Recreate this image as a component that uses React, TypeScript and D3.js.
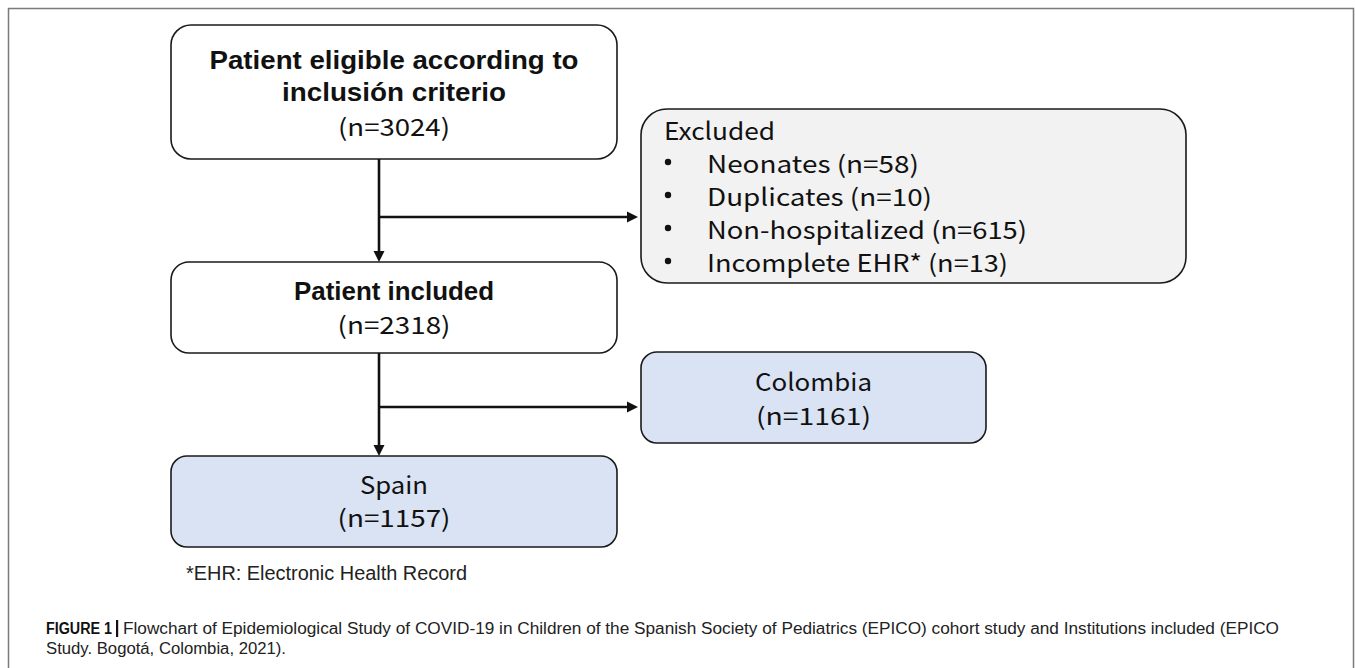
import React from "react";
import * as d3 from "d3";

// ---- data ----
const stageTitles = ["Patient eligible according to", "inclusión criterio"];
const includedTitle = "Patient included";
const stageCounts = [3024, 2318];
const countryNames = ["Colombia", "Spain"];
const countryCounts = [1161, 1157];
const excludedHeader = "Excluded";
const excludedReasons = ["Neonates", "Duplicates", "Non-hospitalized", "Incomplete EHR*"];
const excludedCounts = [58, 10, 615, 13];
const footnote = "*EHR: Electronic Health Record";
const captionBold = "FIGURE 1";
const captionLine1 =
  "Flowchart of Epidemiological Study of COVID-19 in Children of the Spanish Society of Pediatrics (EPICO) cohort study and Institutions included (EPICO";
const captionLine2 = "Study. Bogotá, Colombia, 2021).";

const W = 1355;
const H = 668;

const JP = "'Noto Sans CJK JP', 'Noto Sans', sans-serif";
const COND = "'Liberation Sans', Arial, sans-serif";
const CAP = "'Liberation Sans', Arial, Helvetica, sans-serif";

type TProps = {
  x: number; y: number; text: string; w?: number; size: number; family: string;
  weight?: number | string; anchor?: string; fill?: string;
};
function T({ x, y, text, w, size, family, weight = 400, anchor = "middle", fill = "#111" }: TProps) {
  return (
    <text
      x={x}
      y={y}
      fontSize={size}
      fontFamily={family}
      fontWeight={weight}
      textAnchor={anchor}
      dominantBaseline="central"
      fill={fill}
      {...(w ? { textLength: w, lengthAdjust: "spacingAndGlyphs" } : {})}
    >
      {text}
    </text>
  );
}

function Arrow({ x1, y1, x2, y2 }: { x1: number; y1: number; x2: number; y2: number }) {
  const ang = Math.atan2(y2 - y1, x2 - x1);
  const L = 11, hw = 5.5;
  const bx = x2 - L * Math.cos(ang), by = y2 - L * Math.sin(ang);
  const p = d3.path();
  p.moveTo(x2, y2);
  p.lineTo(bx + hw * Math.sin(ang), by - hw * Math.cos(ang));
  p.lineTo(bx - hw * Math.sin(ang), by + hw * Math.cos(ang));
  p.closePath();
  return (
    <g>
      <line x1={x1} y1={y1} x2={bx + Math.cos(ang)} y2={by + Math.sin(ang)} stroke="#111" strokeWidth={2.6} />
      <path d={p.toString()} fill="#111" />
    </g>
  );
}

export default function App() {
  const fmt = (n: number) => `(n=${n})`;
  const mainX = 171, mainW = 446, mainCx = mainX + mainW / 2;
  const spineX = 379;
  const top = { y: 25, h: 134 };
  const inc = { y: 262, h: 91 };
  const spain = { y: 456, h: 91 };
  const col = { x: 641, y: 352, w: 345, h: 91 };
  const exc = { x: 641, y: 109, w: 545, h: 174 };
  const rowY = d3.scaleLinear().domain([0, 3]).range([162, 261]);
  const countW = [112, 113];
  const reasonW = [212, 225, 320, 301];
  const blue = "#dae3f3";
  const stroke = "#1a1a1a";

  return (
    <svg width={W} height={H} style={{ position: "absolute", left: 0, top: 0, background: "#fff" }}>
      <rect x={8.5} y={8.5} width={1345} height={720} fill="none" stroke="#7a7a7a" strokeWidth={1.5} />

      {/* top box */}
      <rect x={mainX} y={top.y} width={mainW} height={top.h} rx={20} fill="#fff" stroke={stroke} strokeWidth={1.6} />
      <T x={mainCx} y={60} text={stageTitles[0]} w={369} size={25} family={COND} weight={700} />
      <T x={mainCx} y={92} text={stageTitles[1]} w={224} size={25} family={COND} weight={700} />
      <T x={mainCx} y={125} text={fmt(stageCounts[0])} w={countW[0]} size={24} family={JP} />

      {/* excluded box */}
      <rect x={exc.x} y={exc.y} width={exc.w} height={exc.h} rx={26} fill="#f2f2f2" stroke={stroke} strokeWidth={1.6} />
      <T x={664} y={129} text={excludedHeader} w={111} size={24} family={JP} anchor="start" />
      {excludedReasons.map((r, i) => (
        <g key={r}>
          <circle cx={668} cy={rowY(i)} r={3.2} fill="#111" />
          <T x={707} y={rowY(i)} text={`${r} ${fmt(excludedCounts[i])}`} w={reasonW[i]} size={24} family={JP} anchor="start" />
        </g>
      ))}

      {/* included box */}
      <rect x={mainX} y={inc.y} width={mainW} height={inc.h} rx={18} fill="#fff" stroke={stroke} strokeWidth={1.6} />
      <T x={mainCx} y={291} text={includedTitle} w={200} size={25} family={COND} weight={700} />
      <T x={mainCx} y={323} text={fmt(stageCounts[1])} w={countW[1]} size={24} family={JP} />

      {/* colombia */}
      <rect x={col.x} y={col.y} width={col.w} height={col.h} rx={16} fill={blue} stroke={stroke} strokeWidth={1.6} />
      <T x={col.x + col.w / 2} y={380} text={countryNames[0]} w={117} size={24} family={JP} />
      <T x={col.x + col.w / 2} y={414} text={fmt(countryCounts[0])} w={115} size={24} family={JP} />

      {/* spain */}
      <rect x={mainX} y={spain.y} width={mainW} height={spain.h} rx={16} fill={blue} stroke={stroke} strokeWidth={1.6} />
      <T x={mainCx} y={483} text={countryNames[1]} w={68} size={24} family={JP} />
      <T x={mainCx} y={516} text={fmt(countryCounts[1])} w={113} size={24} family={JP} />

      {/* connectors */}
      <Arrow x1={spineX} y1={top.y + top.h} x2={spineX} y2={inc.y} />
      <Arrow x1={spineX} y1={217} x2={exc.x - 3} y2={217} />
      <Arrow x1={spineX} y1={inc.y + inc.h} x2={spineX} y2={spain.y} />
      <Arrow x1={spineX} y1={407} x2={col.x - 3} y2={407} />

      {/* footnote */}
      <T x={186} y={573} text={footnote} w={281} size={20} family={COND} anchor="start" fill="#222" />

      {/* caption */}
      <T x={46} y={628} text={captionBold} w={66} size={16} family={CAP} weight={700} anchor="start" />
      <rect x={116} y={620} width={2.2} height={17} fill="#111" />
      <T x={123} y={628} text={captionLine1} w={1156} size={16} family={CAP} anchor="start" fill="#222" />
      <T x={46} y={648} text={captionLine2} w={240} size={16} family={CAP} anchor="start" fill="#222" />
    </svg>
  );
}
